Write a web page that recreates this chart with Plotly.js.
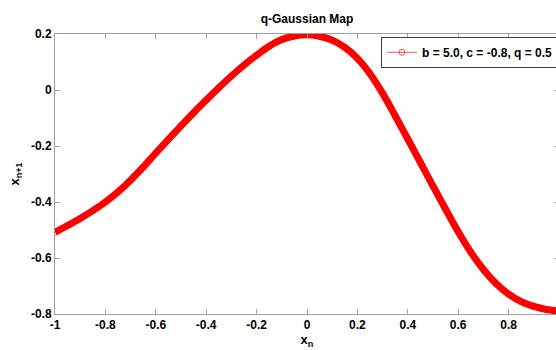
<!DOCTYPE html>
<html>
<head>
<meta charset="utf-8">
<script src="https://cdn.plot.ly/plotly-3.0.1.min.js"></script>
<style>
  html, body { margin: 0; padding: 0; overflow: hidden; background: #fff; }
  #plot { width: 560px; height: 350px; }
</style>
</head>
<body>
<div id="plot"></div>
<script>
// values
var xn = [-1.00, -0.95, -0.90, -0.85, -0.80, -0.75, -0.70, -0.65, -0.60, -0.55,
          -0.50, -0.45, -0.40, -0.35, -0.30, -0.25, -0.20, -0.15, -0.10, -0.05,
           0.00,  0.05,  0.10,  0.15,  0.20,  0.25,  0.30,  0.35,  0.40,  0.45,
           0.50,  0.55,  0.60,  0.65,  0.70,  0.75,  0.80,  0.85,  0.90,  0.95, 1.00];
var xn1 = [-0.508, -0.484, -0.459, -0.431, -0.400, -0.364, -0.322, -0.275, -0.225, -0.176,
           -0.128, -0.081, -0.036,  0.008,  0.050,  0.089,  0.124,  0.156,  0.180,  0.193,
            0.197,  0.192,  0.178,  0.152,  0.113,  0.058, -0.012, -0.092, -0.175, -0.259,
           -0.343, -0.426, -0.506, -0.579, -0.641, -0.691, -0.729, -0.756, -0.773, -0.784, -0.790];

var xTickVals = [-1, -0.8, -0.6, -0.4, -0.2, 0, 0.2, 0.4, 0.6, 0.8, 1];
var xTickText = ['-1', '-0.8', '-0.6', '-0.4', '-0.2', '0', '0.2', '0.4', '0.6', '0.8', '1'];
var yTickVals = [-0.8, -0.6, -0.4, -0.2, 0, 0.2];
var yTickText = ['-0.8', '-0.6', '-0.4', '-0.2', '0', '0.2'];

var seriesName = 'b = 5.0, c = -0.8, q = 0.5';

var fnt = {family: 'Liberation Sans, Arial, sans-serif', size: 12, color: '#000', weight: 'bold'};

var data = [
    // thin line with circles, only really seen in the legend
    {
        x: xn, y: xn1,
        type: 'scatter',
        mode: 'lines+markers',
        name: seriesName,
        line: {color: '#f05050', width: 1},
        marker: {symbol: 'circle-open', size: 6, color: '#f05050'},
        hoverinfo: 'skip'
    },
    // the thick band made of dense markers in the original
    {
        x: xn, y: xn1,
        type: 'scatter',
        mode: 'lines',
        line: {color: '#ff0000', width: 7, shape: 'spline', smoothing: 1},
        showlegend: false,
        hoverinfo: 'skip'
    }
];

var axisCommon = {
    showline: true,
    linecolor: '#a0a0a0',
    linewidth: 1,
    mirror: 'ticks',
    ticks: 'inside',
    ticklen: 5,
    tickcolor: '#a0a0a0',
    showgrid: false,
    zeroline: false,
    tickfont: fnt
};

var layout = {
    width: 560,
    height: 350,
    margin: {l: 55, r: 1, t: 34, b: 36},
    paper_bgcolor: '#fff',
    plot_bgcolor: '#fff',
    font: fnt,
    title: {
        text: 'q-Gaussian Map',
        font: {family: fnt.family, size: 12, color: '#000', weight: 'bold'},
        x: 0.5, xref: 'paper',
        y: 1, yref: 'container', yanchor: 'top', pad: {t: 15}
    },
    xaxis: Object.assign({}, axisCommon, {
        range: [-1, 1],
        tickvals: xTickVals,
        ticktext: xTickText,
        title: {text: 'x<sub>n</sub>', font: {family: fnt.family, size: 13, color: '#000', weight: 'bold'}, standoff: 1}
    }),
    yaxis: Object.assign({}, axisCommon, {
        range: [-0.8, 0.2],
        tickvals: yTickVals,
        ticktext: yTickText,
        title: {text: 'x<sub>n+1</sub>', font: {family: fnt.family, size: 13, color: '#000', weight: 'bold'}, standoff: 8}
    }),
    showlegend: true,
    legend: {
        x: 1, xanchor: 'right',
        y: 0.99, yanchor: 'top',
        bgcolor: '#fff',
        bordercolor: '#404040',
        borderwidth: 1,
        font: fnt,
        itemwidth: 30,
        tracegroupgap: 0
    }
};

Plotly.newPlot('plot', data, layout, {displayModeBar: false, staticPlot: true});
</script>
</body>
</html>
